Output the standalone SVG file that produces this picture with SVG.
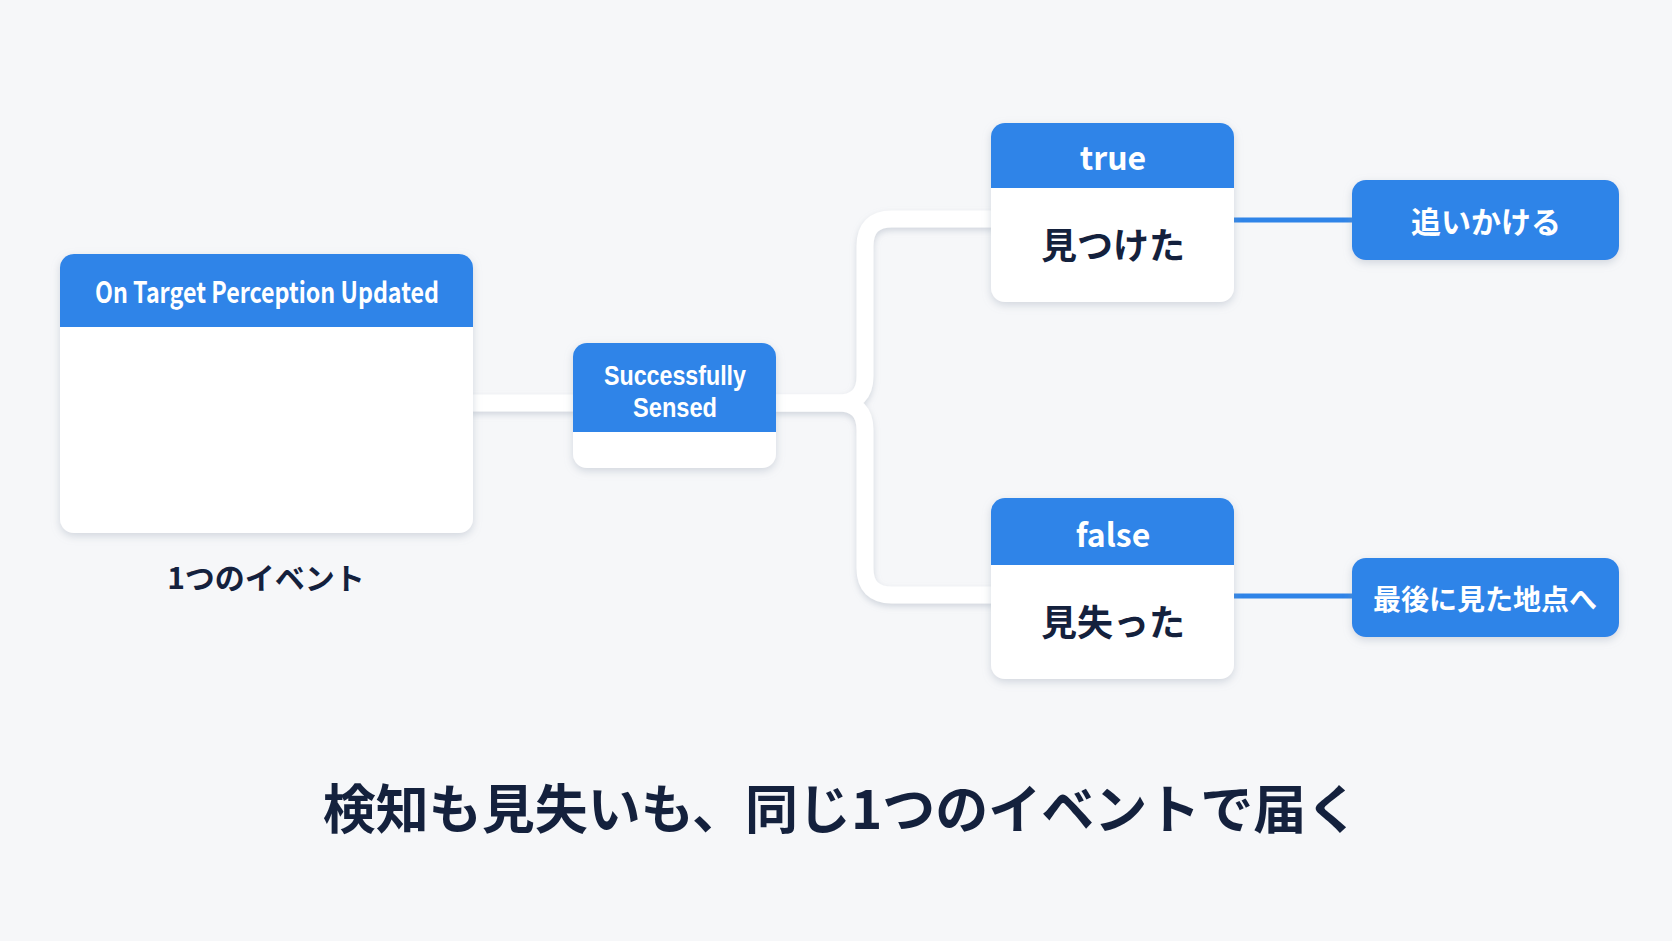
<svg xmlns="http://www.w3.org/2000/svg" width="1672" height="941" viewBox="0 0 1672 941">
<defs>
<filter id="sh" x="-20%" y="-20%" width="140%" height="150%">
<feDropShadow dx="0" dy="3" stdDeviation="4" flood-color="#8a97aa" flood-opacity="0.35"/>
</filter>
<filter id="lsh" x="-10%" y="-10%" width="120%" height="130%">
<feDropShadow dx="0" dy="3" stdDeviation="3" flood-color="#8a97aa" flood-opacity="0.35"/>
</filter>
<clipPath id="c1"><rect x="60" y="254" width="413" height="279" rx="14"/></clipPath>
<clipPath id="c2"><rect x="573" y="343" width="203" height="125" rx="14"/></clipPath>
<clipPath id="c3"><rect x="991" y="123" width="243" height="179" rx="14"/></clipPath>
<clipPath id="c4"><rect x="991" y="498" width="243" height="181" rx="14"/></clipPath>
</defs>
<style>
.t{font-family:"Noto Sans CJK JP","Noto Sans",sans-serif;font-weight:700;text-anchor:middle}
.l{font-family:"Liberation Sans",Arial,sans-serif;font-weight:700;text-anchor:middle}
.w{fill:#ffffff}
.d{fill:#14213d}
.hd{fill:#2f84e8}
.bd{fill:#ffffff}
.wl{fill:none;stroke:#ffffff;stroke-width:17;stroke-linejoin:round}
.bl{fill:none;stroke:#2f84e8;stroke-width:5}
</style>
<rect width="1672" height="941" fill="#f6f7f9"/>
<g id="connectors">
<g filter="url(#lsh)">
<path class="wl" d="M470,403 H576"/>
<path class="wl" d="M773,403 H838 Q865,403 865,376 V246 Q865,219 892,219 H994"/>
<path class="wl" d="M773,403 H838 Q865,403 865,430 V568 Q865,595 892,595 H994"/>
</g>
<path class="bl" d="M1234,220 H1352"/>
<path class="bl" d="M1234,596 H1352"/>
</g>
<g id="event">
<rect x="60" y="254" width="413" height="279" rx="14" class="bd" filter="url(#sh)"/>
<rect x="60" y="254" width="413" height="73" class="hd" clip-path="url(#c1)"/>
<text class="t w" x="267" y="303" font-size="29" textLength="344" lengthAdjust="spacingAndGlyphs">On Target Perception Updated</text>
</g>
<text id="event-label" class="t d" x="266" y="589" font-size="30">1つのイベント</text>
<g id="sensed">
<rect x="573" y="343" width="203" height="125" rx="14" class="bd" filter="url(#sh)"/>
<rect x="573" y="343" width="203" height="89" class="hd" clip-path="url(#c2)"/>
<text class="l w" x="675" y="385" font-size="27" textLength="142" lengthAdjust="spacingAndGlyphs">Successfully</text>
<text class="l w" x="675" y="417" font-size="27" textLength="84" lengthAdjust="spacingAndGlyphs">Sensed</text>
</g>
<g id="true">
<rect x="991" y="123" width="243" height="179" rx="14" class="bd" filter="url(#sh)"/>
<rect x="991" y="123" width="243" height="65" class="hd" clip-path="url(#c3)"/>
<text class="t w" x="1113" y="170" font-size="32">true</text>
<text class="t d" x="1113" y="259" font-size="36">見つけた</text>
</g>
<g id="false">
<rect x="991" y="498" width="243" height="181" rx="14" class="bd" filter="url(#sh)"/>
<rect x="991" y="498" width="243" height="67" class="hd" clip-path="url(#c4)"/>
<text class="t w" x="1113" y="547" font-size="32">false</text>
<text class="t d" x="1113" y="636" font-size="36">見失った</text>
</g>
<g id="chase">
<rect x="1352" y="180" width="267" height="80" rx="14" class="hd" filter="url(#sh)"/>
<text class="t w" x="1486" y="233" font-size="30">追いかける</text>
</g>
<g id="lastseen">
<rect x="1352" y="558" width="267" height="79" rx="14" class="hd" filter="url(#sh)"/>
<text class="t w" x="1485" y="610" font-size="28">最後に見た地点へ</text>
</g>
<text id="caption" class="t d" x="841" y="829" font-size="53">検知も見失いも、同じ1つのイベントで届く</text>
</svg>
